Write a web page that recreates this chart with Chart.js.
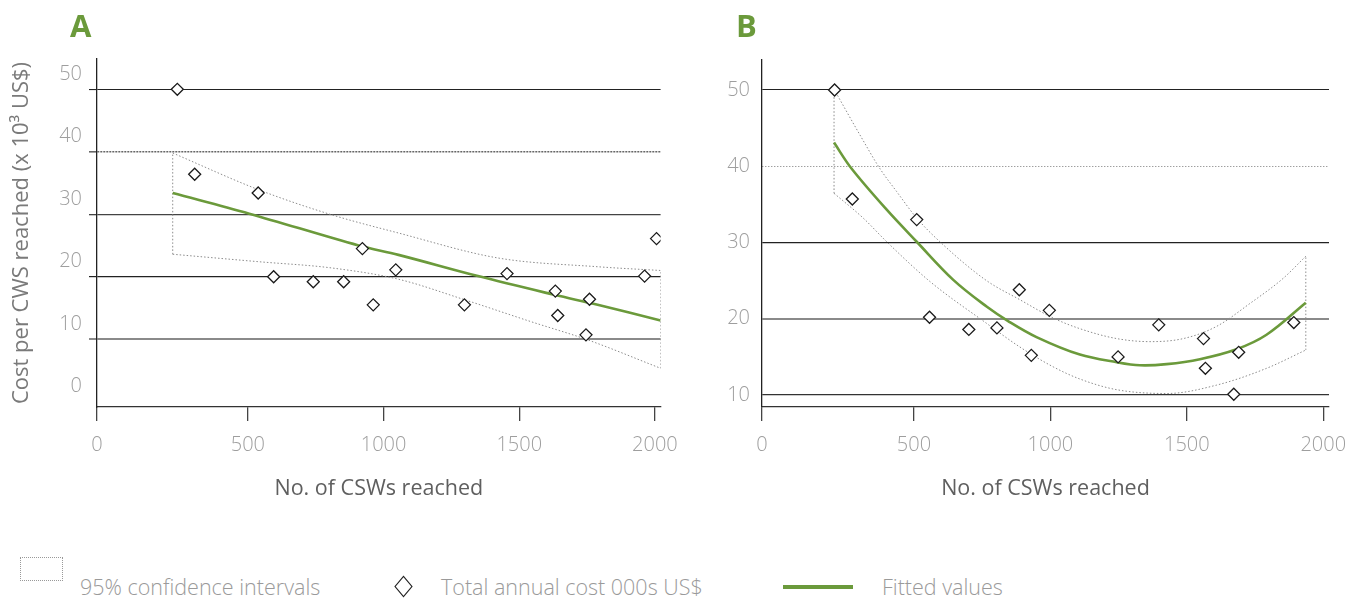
<!DOCTYPE html>
<html>
<head>
<meta charset="utf-8">
<title>Cost per CSW reached</title>
<script src="https://cdn.jsdelivr.net/npm/chart.js@4.4.1/dist/chart.umd.min.js"></script>
<style>
  body { margin: 0; background: #fff; width: 1365px; height: 600px; position: relative; overflow: hidden; font-family: 'Open Sans', sans-serif; }
  canvas { position: absolute; top: 0; }
  #chartA { left: 0; }
  #chartB { left: 690px; }
  .panel { position: absolute; top: 4px; font-weight: 700; font-size: 31px; color: #6b9a3b; }
  .leg { position: absolute; }
  .leg-text { position: absolute; top: 573px; font-size: 21.5px; line-height: 28px; font-weight: 300; color: #9a9a9a; white-space: nowrap; }
</style>
</head>
<body>
<canvas id="chartA" width="690" height="520"></canvas>
<canvas id="chartB" width="675" height="520"></canvas>
<div class="panel" style="left:70px;">A</div>
<div class="panel" style="left:736px;">B</div>

<div class="leg" style="left:20px;top:557px;width:41px;height:22px;border:1px dotted #999;"></div>
<div class="leg-text" style="left:80px;">95% confidence intervals</div>
<div class="leg" style="left:397px;top:580px;width:11px;height:11px;border:1.3px solid #222;transform:scaleY(1.2) rotate(45deg);"></div>
<div class="leg-text" style="left:441px;">Total annual cost 000s US$</div>
<div class="leg" style="left:783px;top:585px;width:70px;height:4px;background:#6b9a3b;"></div>
<div class="leg-text" style="left:882px;">Fitted values</div>

<script>
// Panel A: cost per CSW reached, linear fit
const costAx = [240, 304, 538, 595, 741, 853, 922, 962, 1045, 1298, 1455, 1633, 1642, 1746, 1759, 1962, 2006];
const costAy = [50, 36.4, 33.4, 20.0, 19.2, 19.2, 24.5, 15.5, 21.1, 15.5, 20.5, 17.7, 13.8, 10.7, 16.4, 20.1, 26.1];
const fitAx = [223, 505, 908, 1055, 1348, 1630, 1789, 2021];
const fitAy = [33.4, 30.1, 25.0, 23.5, 20.1, 17.1, 15.5, 13.0];
const ciUpAx = [223, 541, 810, 1055, 1422, 1789, 2021];
const ciUpAy = [39.8, 33.9, 29.9, 27.0, 23.0, 21.6, 21.0];
const ciLoAx = [223, 541, 810, 1055, 1300, 1544, 1752, 2021];
const ciLoAy = [23.6, 22.4, 21.4, 19.6, 16.3, 12.8, 9.9, 5.35];

// Panel B: quadratic fit
const costBx = [209, 274, 510, 557, 701, 804, 886, 930, 996, 1248, 1397, 1561, 1568, 1672, 1690, 1892];
const costBy = [50, 35.7, 33.0, 20.2, 18.6, 18.8, 23.8, 15.2, 21.1, 15.0, 19.2, 17.4, 13.5, 10.1, 15.6, 19.5];
const fitBx = [207, 271, 400, 510, 644, 766, 845, 949, 1108, 1243, 1328, 1426, 1548, 1682, 1792, 1936];
const fitBy = [43.1, 39.7, 34.3, 30.1, 25.1, 21.6, 19.7, 17.6, 15.3, 14.3, 13.9, 14.05, 14.7, 16.0, 17.9, 22.1];
const ciUpBx = [207, 302, 375, 436, 510, 595, 766, 888, 1010, 1108, 1243, 1365, 1487, 1609, 1731, 1853, 1936];
const ciUpBy = [50.1, 44.1, 39.7, 36.7, 33.2, 30.1, 25.0, 22.5, 20.1, 18.7, 17.4, 17.0, 17.4, 19.0, 22.0, 25.3, 28.2];
const ciLoBx = [207, 314, 400, 558, 766, 888, 1010, 1108, 1243, 1427, 1609, 1792, 1936];
const ciLoBy = [36.45, 33.2, 30.1, 24.9, 19.4, 16.3, 13.7, 12.1, 10.7, 10.2, 11.3, 13.5, 15.9];

// tick labels
const xTickValues = [500, 1000, 1500, 2000];
const xTickLabels = ['0', '500', '1000', '1500', '2000'];
const yTicksA = [0, 10, 20, 30, 40, 50];
const yTicksB = [10, 20, 30, 40, 50];
const xTitle = 'No. of CSWs reached';
const yTitle = 'Cost per CWS reached (x 10\u00B3 US$)';

const green = '#6b9a3b';
const tickGray = '#9e9e9e';
const tickFont = { size: 20, weight: 300 };
Chart.defaults.font.family = "'Open Sans', sans-serif";

// gridline look per tick value
const gridA = {
  0: { c: 'rgba(0,0,0,0)', w: 1, d: [] },
  10: { c: '#8a8a8a', w: 2, d: [] },
  20: { c: '#222', w: 1.2, d: [] },
  30: { c: '#444', w: 1.3, d: [] },
  40: { c: '#666', w: 1.6, d: [2, 1] },
  50: { c: '#222', w: 1.1, d: [] }
};
const gridB = {
  10: { c: '#333', w: 1.2, d: [] },
  20: { c: '#8a8a8a', w: 2, d: [] },
  30: { c: '#222', w: 1.2, d: [] },
  40: { c: '#777', w: 1, d: [1, 2] },
  50: { c: '#222', w: 1.1, d: [] }
};

const pts = (xs, ys) => xs.map((x, i) => ({ x: x, y: ys[i] }));
const ciStyle = { showLine: true, pointRadius: 0, pointHoverRadius: 0, borderColor: '#8c8c8c', borderWidth: 1, borderDash: [1.5, 2], cubicInterpolationMode: 'monotone' };

function panel(id, c) {
  const gs = ctx => (ctx.tick && c.grid[ctx.tick.value]) || { c: '#333', w: 1, d: [] };
  const nUp = c.upX.length - 1, nLo = c.loX.length - 1;
  return new Chart(document.getElementById(id), {
    type: 'scatter',
    data: {
      datasets: [
        { data: pts(c.costX, c.costY), pointStyle: 'rectRot', pointRadius: 6, pointHoverRadius: 6, borderColor: '#1a1a1a', backgroundColor: '#fff', borderWidth: 1.3 },
        { data: pts(c.fitX, c.fitY), showLine: true, pointRadius: 0, pointHoverRadius: 0, borderColor: green, borderWidth: 2.6, tension: 0.35 },
        Object.assign({ data: pts(c.upX, c.upY) }, ciStyle),
        Object.assign({ data: pts(c.loX, c.loY) }, ciStyle),
        Object.assign({ data: [{ x: c.loX[0], y: c.loY[0] }, { x: c.upX[0], y: c.upY[0] }] }, ciStyle),
        Object.assign({ data: [{ x: c.loX[nLo], y: c.loY[nLo] }, { x: c.upX[nUp], y: c.upY[nUp] }] }, ciStyle)
      ]
    },
    options: {
      responsive: false,
      animation: false,
      layout: { padding: { top: c.top, right: c.right, left: 0, bottom: 0 } },
      plugins: { legend: { display: false }, tooltip: { enabled: false } },
      scales: {
        x: {
          type: 'linear', min: c.xMin, max: c.xMax,
          afterBuildTicks: s => { s.ticks = [s.min].concat(xTickValues).map(v => ({ value: v })); },
          afterFit: s => { s.height = 113; },
          ticks: { autoSkip: false, maxRotation: 0, padding: 12, color: tickGray, font: tickFont, callback: (v, i) => xTickLabels[i] },
          grid: { drawOnChartArea: false, drawTicks: true, tickLength: 14, color: '#444', lineWidth: 1.3 },
          border: { color: '#333', width: 1.3 },
          title: { display: true, text: xTitle, color: '#5f5f5f', font: { size: 21.5 }, padding: { top: 0, bottom: 18 } }
        },
        y: {
          type: 'linear', min: c.yMin, max: c.yMax,
          afterBuildTicks: s => { s.ticks = c.yTicks.map(v => ({ value: v })); },
          afterFit: s => { s.width = c.yWidth; },
          ticks: { padding: c.yPad, labelOffset: c.labelOffset, color: tickGray, font: tickFont },
          grid: { color: ctx => gs(ctx).c, lineWidth: ctx => gs(ctx).w, drawTicks: c.yTickLen > 0, tickLength: c.yTickLen },
          border: { color: '#222', width: 1.3, dash: ctx => gs(ctx).d },
          title: { display: c.showTitle, text: yTitle, color: '#7a7a7a', font: { size: 22 }, padding: { top: 9, bottom: 0 } }
        }
      }
    }
  });
}

panel('chartA', {
  costX: costAx, costY: costAy, fitX: fitAx, fitY: fitAy,
  upX: ciUpAx, upY: ciUpAy, loX: ciLoAx, loY: ciLoAy,
  yTicks: yTicksA, grid: gridA,
  xMin: -56, xMax: 2021, yMin: -0.85, yMax: 54.85,
  top: 59, right: 27, yWidth: 97, yPad: 7, yTickLen: 8, labelOffset: -15, showTitle: true
});

panel('chartB', {
  costX: costBx, costY: costBy, fitX: fitBx, fitY: fitBy,
  upX: ciUpBx, upY: ciUpBy, loX: ciLoBx, loY: ciLoBy,
  yTicks: yTicksB, grid: gridB,
  xMin: -57, xMax: 2021, yMin: 8.43, yMax: 53.93,
  top: 60, right: 36, yWidth: 72, yPad: 12, yTickLen: 0, labelOffset: 0, showTitle: false
});
</script>
</body>
</html>
